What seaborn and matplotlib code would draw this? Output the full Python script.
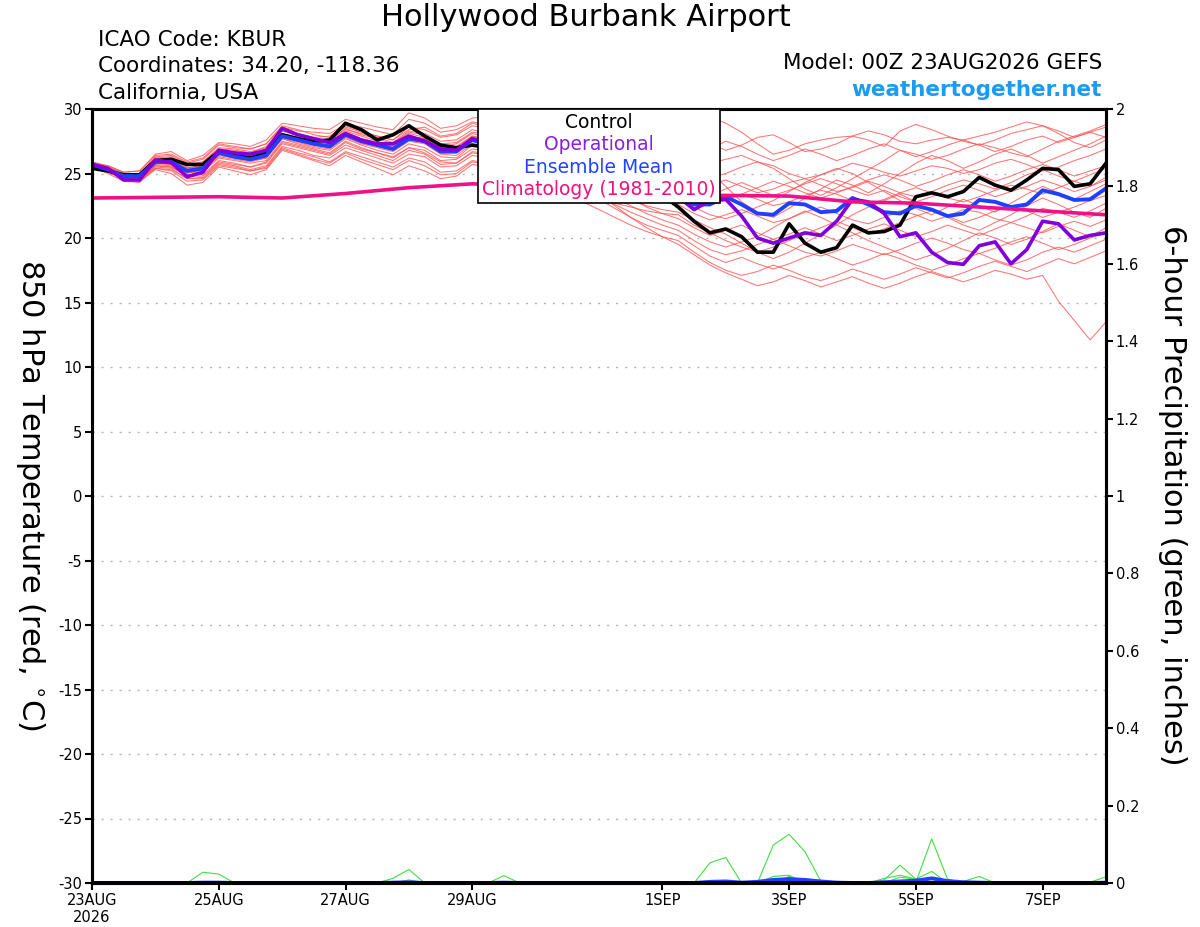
import numpy as np
import pandas as pd
import matplotlib
matplotlib.use("Agg")
import matplotlib.pyplot as plt
import seaborn as sns
from matplotlib.offsetbox import TextArea, VPacker, AnchoredOffsetbox

# ---------------- data ----------------
start = "2026-08-23 00:00"
n_steps = 65  # 6-hourly, 0..384 h

control_t = [25.4, 25.2, 24.9, 24.9, 26.0, 26.1, 25.7, 25.7, 26.7, 26.4, 26.2, 26.6, 28.0, 27.7, 27.5, 27.6,
             28.9, 28.4, 27.6, 28.0, 28.7, 27.9, 27.2, 27.0, 27.2,
             27.0, 26.8, 26.5, 26.2, 26.0, 25.8, 25.5, 25.2, 24.8, 24.4, 23.8, 23.3,
             22.4, 21.3, 20.4, 20.7, 20.1, 18.9, 18.9, 21.1, 19.6, 18.9, 19.25, 21.0, 20.4, 20.5, 21.0,
             23.2, 23.5, 23.2, 23.6, 24.7, 24.1, 23.7, 24.5, 25.4, 25.3, 24.0, 24.2, 25.8]

operational_t = [25.7, 25.4, 24.5, 24.5, 26.05, 25.85, 24.75, 25.1, 26.8, 26.6, 26.5, 26.8, 28.5, 28.0, 27.7, 27.4,
                 28.1, 27.6, 27.3, 27.3, 27.9, 27.5, 26.9, 26.8, 27.7,
                 27.4, 27.0, 26.6, 26.2, 25.8, 25.4, 25.0, 24.6, 24.2, 23.8, 23.4, 23.1,
                 23.2, 22.2, 22.9, 23.0, 21.7, 20.0, 19.6, 20.0, 20.4, 20.2, 21.3, 23.0, 22.8, 21.9, 20.1,
                 20.4, 18.9, 18.1, 17.96, 19.4, 19.7, 18.0, 19.1, 21.3, 21.1, 19.85, 20.2, 20.4]

mean_t = [25.7, 25.3, 24.8, 24.8, 25.9, 25.9, 25.2, 25.4, 26.6, 26.3, 26.1, 26.4, 27.9, 27.6, 27.3, 27.1,
          28.0, 27.5, 27.2, 26.9, 27.7, 27.5, 26.7, 26.7, 27.6,
          27.2, 26.8, 26.4, 26.0, 25.6, 25.2, 24.8, 24.4, 24.0, 23.6, 23.3, 23.1,
          23.2, 22.6, 22.6, 23.2, 22.6, 21.9, 21.8, 22.7, 22.6, 22.0, 22.1, 23.1, 22.6, 22.0, 21.9,
          22.5, 22.2, 21.7, 21.9, 22.95, 22.8, 22.4, 22.6, 23.7, 23.4, 22.95, 23.0, 23.85]

# daily climatology (23AUG .. 8SEP)
clim_t = [23.1, 23.15, 23.2, 23.1, 23.45, 23.9, 24.2, 24.0, 23.6, 23.3, 23.3, 23.25, 22.8, 22.7, 22.4, 22.1, 21.8]

member_01 = [25.8, 25.6, 25.1, 25.2, 26.5, 26.7, 26.0, 26.4, 27.4, 27.3, 27.1, 27.6, 28.9, 28.7, 28.5, 28.4, 29.2, 28.9, 28.6, 28.4, 29.7, 29.3, 28.5, 28.7, 29.3,
             29.4, 29.5, 29.3, 29.0, 28.8, 28.9, 29.1, 29.3, 29.0, 28.7, 28.6, 28.7,
             28.8, 29.2, 29.4, 28.9, 28.2, 27.3, 26.5, 26.8, 27.3, 27.6, 27.8, 27.9, 27.6, 27.1, 28.3, 28.8, 28.4, 27.9, 27.5, 27.2, 27.6, 28.1, 28.4, 28.7, 28.3, 27.8, 28.2, 28.6]
member_02 = [25.6, 25.2, 24.9, 25.0, 26.3, 26.4, 25.8, 26.1, 27.2, 27.0, 26.9, 27.3, 28.6, 28.3, 28.2, 28.1, 28.8, 28.6, 28.3, 28.0, 29.2, 28.9, 28.2, 28.4, 29.0,
             28.8, 28.5, 28.3, 28.0, 27.8, 27.9, 28.1, 28.3, 28.0, 27.8, 27.6, 27.5,
             27.6, 27.9, 27.3, 26.8, 27.2, 27.8, 28.0, 27.4, 26.7, 26.9, 27.3, 27.9, 28.3, 28.0, 27.5, 27.3, 27.6, 27.8, 27.6, 27.9, 28.2, 28.6, 29.0, 28.7, 28.1, 27.4, 27.0, 27.6]
member_03 = [25.5, 25.4, 24.7, 24.6, 26.1, 26.2, 25.6, 25.9, 26.9, 26.8, 26.6, 27.1, 28.4, 28.1, 27.8, 27.9, 28.7, 28.3, 27.9, 27.6, 28.6, 28.4, 27.8, 28.0, 28.7,
             28.5, 28.2, 27.9, 27.6, 27.4, 27.5, 27.3, 27.0, 26.9, 26.8, 26.6, 26.5,
             26.5, 26.2, 25.8, 26.1, 26.4, 25.9, 25.4, 24.6, 23.8, 23.3, 23.9, 24.6, 25.3, 26.0, 26.8, 26.5, 26.1, 26.4, 26.9, 27.3, 27.0, 26.6, 26.3, 26.9, 27.5, 27.9, 28.3, 28.8]
member_04 = [25.9, 25.5, 25.0, 24.9, 26.2, 26.0, 25.4, 25.7, 26.8, 26.6, 26.4, 26.9, 28.3, 27.9, 27.7, 27.6, 28.4, 28.1, 27.8, 27.4, 28.3, 28.1, 27.5, 27.6, 28.4,
             28.1, 27.8, 27.5, 27.2, 26.9, 26.7, 26.5, 26.3, 26.2, 26.1, 26.0, 25.9,
             25.8, 25.2, 24.7, 25.0, 25.5, 25.9, 25.6, 25.0, 24.6, 24.9, 25.3, 25.8, 25.5, 25.1, 24.8, 25.2, 25.6, 25.4, 25.0, 25.3, 25.8, 26.1, 25.7, 25.2, 25.5, 26.0, 26.4, 26.9]
member_05 = [25.7, 25.3, 24.9, 24.8, 25.9, 25.8, 25.3, 25.6, 26.7, 26.5, 26.3, 26.7, 28.1, 27.8, 27.5, 27.4, 28.3, 27.9, 27.5, 27.2, 28.1, 27.8, 27.1, 27.3, 28.1,
             27.8, 27.5, 27.1, 26.8, 26.6, 26.4, 26.2, 26.0, 25.7, 25.5, 25.3, 25.1,
             25.0, 25.4, 25.1, 24.0, 22.8, 22.0, 21.6, 22.3, 23.1, 23.8, 24.5, 24.1, 23.5, 24.2, 25.0, 25.8, 26.4, 26.0, 25.4, 25.9, 26.5, 26.9, 26.4, 25.8, 26.3, 26.8, 27.3, 27.9]
member_06 = [25.6, 25.1, 24.6, 24.5, 25.7, 25.6, 25.0, 25.3, 26.5, 26.2, 26.0, 26.3, 27.9, 27.5, 27.2, 27.0, 27.9, 27.4, 27.1, 26.8, 27.6, 27.4, 26.6, 26.6, 27.6,
             27.3, 27.0, 26.7, 26.4, 26.1, 25.8, 25.5, 25.3, 25.0, 24.7, 24.5, 24.3,
             24.2, 23.8, 24.1, 24.5, 24.0, 23.5, 23.8, 24.3, 24.6, 24.1, 23.6, 23.9, 24.4, 24.0, 23.5, 23.2, 23.6, 24.1, 24.5, 24.2, 23.8, 24.3, 24.9, 25.3, 24.8, 24.4, 24.0, 24.7]
member_07 = [25.8, 25.4, 24.8, 24.7, 26.0, 26.1, 25.5, 25.2, 26.3, 26.1, 25.9, 26.2, 27.7, 27.3, 27.0, 26.8, 27.7, 27.2, 26.8, 26.5, 27.3, 27.0, 26.3, 26.2, 27.2,
             27.0, 26.8, 26.5, 26.2, 25.9, 25.6, 25.3, 25.0, 24.6, 24.3, 24.0, 23.8,
             23.6, 23.1, 22.6, 22.9, 23.4, 23.0, 22.5, 22.8, 23.3, 23.7, 23.4, 22.9, 22.6, 23.0, 23.5, 23.9, 23.5, 23.1, 22.8, 23.2, 23.7, 24.1, 23.8, 23.4, 23.9, 24.4, 24.9, 25.4]
member_08 = [25.5, 25.2, 24.7, 24.9, 25.8, 25.7, 25.1, 25.1, 26.2, 26.0, 25.8, 26.0, 27.5, 27.2, 26.9, 26.6, 27.5, 27.0, 26.6, 26.3, 27.0, 26.8, 26.0, 26.1, 26.9,
             26.7, 26.5, 26.2, 25.9, 25.6, 25.3, 25.0, 24.6, 24.3, 24.0, 23.6, 23.3,
             23.0, 22.4, 21.8, 21.5, 21.9, 22.4, 22.9, 23.6, 24.3, 24.9, 25.4, 25.0, 24.3, 23.6, 22.9, 22.3, 21.8, 22.4, 23.0, 22.5, 22.0, 22.7, 23.4, 24.0, 23.5, 23.0, 23.6, 24.2]
member_09 = [25.7, 25.3, 24.8, 24.6, 25.6, 25.5, 24.9, 24.9, 26.0, 25.8, 25.5, 25.8, 27.3, 27.0, 26.7, 26.4, 27.2, 26.8, 26.4, 26.0, 26.8, 26.5, 25.7, 25.8, 26.6,
             26.4, 26.1, 25.8, 25.5, 25.2, 24.9, 24.5, 24.1, 23.8, 23.4, 23.1, 22.8,
             22.6, 21.9, 21.4, 21.8, 22.2, 21.7, 21.2, 21.5, 22.0, 22.4, 21.9, 21.4, 21.1, 21.6, 22.1, 21.8, 21.3, 21.7, 22.2, 22.0, 21.5, 21.2, 21.7, 22.3, 22.0, 21.6, 22.1, 22.7]
member_10 = [25.6, 25.2, 24.5, 24.4, 25.5, 25.4, 24.6, 24.7, 25.8, 25.6, 25.3, 25.6, 27.1, 26.8, 26.4, 26.2, 27.0, 26.6, 26.2, 25.8, 26.5, 26.3, 25.5, 25.6, 26.4,
             26.2, 25.9, 25.6, 25.2, 24.9, 24.5, 24.1, 23.7, 23.3, 22.9, 22.5, 22.2,
             22.0, 21.4, 20.8, 20.3, 19.6, 18.9, 18.4, 18.9, 19.6, 20.3, 21.0, 21.8, 22.4, 22.9, 23.4, 22.8, 22.1, 21.6, 21.0, 20.6, 21.2, 21.8, 22.5, 23.1, 22.6, 22.0, 21.6, 22.3]
member_11 = [25.8, 25.4, 24.9, 24.8, 25.9, 25.9, 25.3, 25.5, 26.6, 26.4, 26.2, 26.6, 28.0, 27.7, 27.4, 27.2, 28.1, 27.6, 27.3, 27.0, 27.8, 27.6, 26.8, 26.9, 27.8,
             27.5, 27.2, 26.8, 26.4, 26.0, 25.5, 25.0, 24.4, 23.8, 23.1, 22.4, 21.9,
             21.5, 20.8, 20.2, 20.6, 21.0, 20.4, 19.9, 20.3, 20.8, 20.3, 19.8, 20.2, 20.7, 21.1, 20.6, 20.1, 20.5, 21.0, 20.6, 20.2, 20.7, 21.2, 20.8, 20.4, 20.9, 21.3, 20.9, 21.4]
member_12 = [25.6, 25.3, 24.8, 24.7, 25.8, 25.7, 25.1, 25.3, 26.4, 26.2, 26.0, 26.2, 27.7, 27.4, 27.1, 26.9, 27.8, 27.3, 27.0, 26.7, 27.5, 27.3, 26.5, 26.4, 27.3,
             27.1, 26.8, 26.4, 25.9, 25.5, 25.0, 24.4, 23.8, 23.1, 22.5, 21.9, 21.4,
             21.0, 20.3, 19.7, 19.3, 19.7, 20.1, 20.8, 21.5, 22.1, 21.6, 21.0, 20.4, 19.8, 19.3, 18.8, 18.3, 18.7, 19.2, 19.8, 20.4, 20.0, 19.5, 19.9, 20.5, 21.1, 20.6, 20.1, 20.8]
member_13 = [25.7, 25.2, 24.6, 24.6, 25.4, 25.2, 24.4, 24.5, 25.6, 25.4, 25.2, 25.5, 27.0, 26.6, 26.3, 25.9, 26.7, 26.3, 25.9, 25.5, 26.2, 25.9, 25.1, 25.2, 26.0,
             25.8, 25.6, 25.3, 25.0, 24.6, 24.2, 23.7, 23.2, 22.6, 22.0, 21.5, 21.0,
             20.6, 19.8, 19.1, 18.7, 19.0, 19.5, 19.9, 19.4, 18.9, 18.6, 19.0, 19.5, 19.1, 18.7, 19.1, 19.6, 20.0, 19.6, 19.1, 18.8, 19.2, 19.7, 20.1, 19.6, 19.1, 19.5, 20.0, 20.4]
member_14 = [25.5, 25.1, 24.7, 24.5, 25.6, 25.5, 24.8, 24.8, 25.9, 25.7, 25.5, 25.9, 27.4, 27.1, 26.8, 26.5, 27.4, 26.9, 26.6, 26.2, 27.0, 26.6, 25.9, 25.8, 26.7,
             26.5, 26.2, 25.8, 25.3, 24.8, 24.2, 23.6, 23.0, 22.3, 21.6, 21.0, 20.6,
             20.2, 19.4, 18.6, 18.1, 18.5, 18.0, 17.6, 18.0, 18.5, 18.9, 18.4, 17.9, 18.3, 18.8, 18.4, 17.9, 17.5, 17.9, 18.4, 18.8, 18.3, 17.9, 18.3, 18.9, 19.3, 18.9, 19.4, 19.9]
member_15 = [25.6, 25.3, 24.6, 24.4, 25.3, 25.0, 24.1, 24.3, 25.5, 25.2, 24.9, 25.3, 26.8, 26.4, 26.0, 25.6, 26.4, 25.9, 25.4, 24.9, 25.6, 25.2, 24.6, 24.8, 25.7,
             25.5, 25.2, 24.8, 24.4, 23.9, 23.4, 22.8, 22.2, 21.6, 21.0, 20.5, 20.1,
             19.8, 18.9, 18.1, 17.5, 17.1, 17.4, 17.9, 17.5, 17.0, 16.7, 17.1, 17.6, 17.2, 16.8, 17.2, 17.7, 17.3, 16.9, 17.3, 17.8, 18.2, 17.8, 17.4, 17.9, 18.4, 18.0, 18.5, 19.0]
member_16 = [25.7, 25.4, 24.9, 24.8, 26.0, 26.0, 25.4, 25.6, 26.7, 26.5, 26.3, 26.6, 28.0, 27.8, 27.5, 27.3, 28.2, 27.7, 27.4, 27.1, 27.9, 27.7, 26.9, 27.0, 27.9,
             27.6, 27.2, 26.7, 26.1, 25.5, 24.8, 24.1, 23.3, 22.5, 21.6, 20.8, 20.1,
             19.5, 18.7, 17.9, 17.3, 16.8, 16.3, 16.6, 17.1, 16.7, 16.2, 16.6, 17.0, 16.5, 16.1, 16.5, 17.0, 17.4, 17.0, 16.6, 17.0, 17.5, 17.2, 16.8, 17.1, 15.1, 13.6, 12.1, 13.5]
member_17 = [25.9, 25.6, 25.1, 25.2, 26.4, 26.5, 25.9, 26.2, 27.3, 27.1, 26.9, 27.3, 28.7, 28.4, 28.0, 27.8, 28.6, 28.2, 27.9, 27.6, 28.4, 28.6, 27.9, 28.1, 28.9,
             28.6, 28.3, 28.0, 27.8, 27.5, 27.7, 27.9, 27.6, 27.4, 27.3, 27.2, 27.1,
             27.0, 26.4, 26.9, 27.5, 27.1, 26.5, 26.0, 26.4, 26.9, 26.5, 26.0, 26.4, 26.9, 27.3, 26.8, 26.3, 26.7, 27.2, 27.6, 27.2, 26.7, 27.1, 27.6, 27.9, 27.4, 27.8, 28.2, 27.8]
member_18 = [25.6, 25.2, 24.7, 24.7, 25.8, 25.8, 25.2, 25.4, 26.5, 26.3, 26.2, 26.5, 27.8, 27.5, 27.3, 27.1, 28.0, 27.6, 27.2, 27.0, 27.9, 27.7, 27.0, 27.1, 27.9,
             27.7, 27.4, 27.0, 26.7, 26.3, 26.0, 25.7, 25.4, 25.1, 24.9, 24.8, 24.7,
             24.6, 24.1, 23.5, 23.0, 23.4, 23.9, 24.4, 24.0, 23.5, 23.1, 23.5, 24.0, 24.5, 24.9, 24.5, 24.0, 24.4, 24.9, 25.3, 24.9, 24.4, 24.8, 25.3, 25.7, 25.3, 24.8, 25.2, 25.6]
member_19 = [25.5, 25.0, 24.4, 24.3, 25.4, 25.3, 24.6, 24.6, 25.7, 25.5, 25.2, 25.4, 26.9, 26.5, 26.1, 25.8, 26.6, 26.1, 25.7, 25.3, 26.0, 25.6, 24.9, 25.0, 25.9,
             25.7, 25.4, 25.1, 24.7, 24.3, 23.9, 23.5, 23.1, 22.7, 22.4, 22.1, 21.9,
             21.8, 21.0, 20.4, 19.8, 19.3, 18.9, 19.3, 19.8, 20.3, 20.8, 21.3, 20.8, 20.3, 20.7, 21.2, 21.7, 22.1, 21.7, 21.2, 21.6, 22.1, 22.5, 22.1, 21.6, 22.0, 22.4, 22.9, 23.3]
member_20 = [25.8, 25.5, 25.0, 25.0, 26.2, 26.3, 25.7, 25.9, 27.0, 26.9, 26.7, 27.0, 28.3, 28.0, 27.7, 27.5, 28.5, 28.0, 27.7, 27.3, 28.2, 28.0, 27.3, 27.4, 28.2,
             28.0, 27.7, 27.4, 27.0, 26.6, 26.2, 25.8, 25.4, 25.0, 24.6, 24.1, 23.6,
             23.3, 22.8, 23.3, 23.8, 24.3, 23.8, 23.3, 23.7, 24.2, 24.6, 24.2, 23.7, 23.3, 23.7, 23.2, 22.8, 23.2, 23.7, 24.1, 23.7, 23.2, 23.6, 24.0, 24.5, 24.1, 23.6, 24.0, 24.5]

# 6-hour precipitation (inches)
control_p = [0, 0, 0, 0, 0, 0, 0, 0, 0, 0, 0, 0, 0, 0, 0, 0, 0, 0, 0, 0, 0, 0, 0, 0, 0, 0, 0, 0, 0, 0, 0, 0, 0,
             0, 0, 0, 0, 0, 0, 0, 0, 0, 0, 0, 0, 0, 0, 0, 0, 0, 0, 0, 0, 0, 0, 0, 0, 0, 0, 0, 0, 0, 0, 0, 0]
mean_p = [0, 0, 0, 0, 0, 0, 0, 0.001, 0.001, 0, 0, 0, 0, 0, 0, 0, 0, 0, 0, 0.001, 0.002, 0, 0, 0, 0, 0, 0.001, 0, 0, 0, 0, 0, 0,
          0, 0, 0, 0, 0, 0, 0.003, 0.004, 0.001, 0.003, 0.008, 0.010, 0.008, 0.004, 0.001, 0, 0, 0.002, 0.004, 0.006, 0.012, 0.005, 0.002, 0.001, 0, 0, 0, 0, 0, 0, 0, 0.001]
prcp_01 = [0, 0, 0, 0, 0, 0, 0, 0, 0, 0, 0, 0, 0, 0, 0, 0, 0, 0, 0, 0, 0, 0, 0, 0, 0, 0, 0, 0, 0, 0, 0, 0, 0,
           0, 0, 0, 0, 0, 0, 0, 0, 0, 0, 0.098, 0.126, 0.081, 0.005, 0, 0, 0, 0, 0, 0, 0, 0, 0, 0, 0, 0, 0, 0, 0, 0, 0, 0]
prcp_02 = [0, 0, 0, 0, 0, 0, 0, 0, 0, 0, 0, 0, 0, 0, 0, 0, 0, 0, 0, 0, 0, 0, 0, 0, 0, 0, 0, 0, 0, 0, 0, 0, 0,
           0, 0, 0, 0, 0, 0, 0.052, 0.066, 0, 0, 0, 0, 0, 0, 0, 0, 0, 0, 0, 0.002, 0.114, 0.010, 0, 0, 0, 0, 0, 0, 0, 0, 0, 0]
prcp_03 = [0, 0, 0, 0, 0, 0, 0, 0.028, 0.023, 0, 0, 0, 0, 0, 0, 0, 0, 0, 0, 0, 0, 0, 0, 0, 0, 0, 0, 0, 0, 0, 0, 0, 0,
           0, 0, 0, 0, 0, 0, 0, 0, 0, 0, 0.017, 0.020, 0, 0, 0, 0, 0, 0.008, 0.046, 0.010, 0, 0, 0, 0, 0, 0, 0, 0, 0, 0, 0, 0]
prcp_04 = [0, 0, 0, 0, 0, 0, 0, 0, 0, 0, 0, 0, 0, 0, 0, 0, 0, 0, 0, 0.012, 0.035, 0, 0, 0, 0, 0, 0, 0, 0, 0, 0, 0, 0,
           0, 0, 0, 0, 0, 0, 0, 0, 0, 0, 0, 0.017, 0, 0, 0, 0, 0, 0.012, 0.020, 0.010, 0, 0, 0.004, 0.017, 0, 0, 0, 0, 0, 0, 0.002, 0.016]
prcp_05 = [0, 0, 0, 0, 0, 0, 0, 0, 0, 0, 0, 0, 0, 0, 0, 0, 0, 0, 0, 0, 0.008, 0, 0, 0, 0.004, 0, 0.019, 0, 0, 0, 0, 0, 0,
           0, 0, 0, 0, 0, 0, 0, 0, 0, 0, 0, 0.015, 0, 0, 0, 0, 0, 0, 0.015, 0.010, 0.030, 0, 0, 0, 0, 0, 0, 0, 0, 0, 0, 0]

date_ticks = ["2026-08-23", "2026-08-25", "2026-08-27", "2026-08-29",
              "2026-09-01", "2026-09-03", "2026-09-05", "2026-09-07"]
date_labels = ["23AUG\n2026", "25AUG", "27AUG", "29AUG", "1SEP", "3SEP", "5SEP", "7SEP"]
temp_ticks = [-30, -25, -20, -15, -10, -5, 0, 5, 10, 15, 20, 25, 30]
prcp_ticks = [0, 0.2, 0.4, 0.6, 0.8, 1.0, 1.2, 1.4, 1.6, 1.8, 2.0]
prcp_tick_labels = ["0", "0.2", "0.4", "0.6", "0.8", "1", "1.2", "1.4", "1.6", "1.8", "2"]
legend_labels = ["Control", "Operational", "Ensemble Mean", "Climatology (1981-2010)"]

# ---------------- frames ----------------
times = pd.date_range(start, periods=n_steps, freq="6h")
clim_times = pd.date_range(start, periods=len(clim_t), freq="1D")

members = [member_01, member_02, member_03, member_04, member_05, member_06, member_07, member_08, member_09, member_10,
           member_11, member_12, member_13, member_14, member_15, member_16, member_17, member_18, member_19, member_20]
ens_df = pd.concat([pd.DataFrame({"time": times, "temp": m, "member": i}) for i, m in enumerate(members)],
                   ignore_index=True)
prcp_members = [prcp_01, prcp_02, prcp_03, prcp_04, prcp_05]
prcp_df = pd.concat([pd.DataFrame({"time": times, "prcp": p, "member": i}) for i, p in enumerate(prcp_members)],
                    ignore_index=True)
main_df = pd.DataFrame({"time": times, "control": control_t, "oper": operational_t, "mean": mean_t,
                        "control_p": control_p, "mean_p": mean_p})
clim_df = pd.DataFrame({"time": clim_times, "clim": clim_t})

# ---------------- colours ----------------
RED = "#ff5252"
PURPLE = "#8000dc"
BLUE = "#2040ff"
PINK = "#f0108a"
GREEN = "#3fe03f"
WEB = "#1a9cf2"

plt.rcParams["font.family"] = ["DejaVu Sans"]

fig = plt.figure(figsize=(12, 9.27), dpi=100)
W, H = 1200, 927
ax = fig.add_axes([92 / W, 1 - 883 / H, (1106 - 92) / W, (883 - 109) / H])

# gridlines
for t in temp_ticks[1:-1]:
    ax.axhline(t, color="#b4b4b4", lw=1.0, ls=(0, (1.5, 5)), zorder=0)

sns.lineplot(data=ens_df, x="time", y="temp", units="member", estimator=None, color=RED, lw=0.75,
             alpha=0.8, ax=ax, legend=False, zorder=2)
sns.lineplot(data=main_df, x="time", y="control", color="black", lw=2.6, ax=ax, legend=False, zorder=4)
sns.lineplot(data=main_df, x="time", y="mean", color=BLUE, lw=2.8, ax=ax, legend=False, zorder=5)
sns.lineplot(data=main_df, x="time", y="oper", color=PURPLE, lw=2.6, ax=ax, legend=False, zorder=6)
sns.lineplot(data=clim_df, x="time", y="clim", color=PINK, lw=2.6, ax=ax, legend=False, zorder=7)

ax.set_xlim(times[0], times[-1])
ax.set_ylim(-30, 30)
ax.set_yticks(temp_ticks)
ax.set_yticklabels([str(t) for t in temp_ticks])
ax.set_xticks(pd.to_datetime(date_ticks))
ax.set_xticklabels(date_labels)
ax.set_xlabel("")
ax.set_ylabel("")
ax.tick_params(axis="both", direction="out", length=5, width=1.5, labelsize=10.5, pad=2)
for s in ax.spines.values():
    s.set_linewidth(2.2)
    s.set_color("black")

# precipitation axis
ax2 = ax.twinx()
sns.lineplot(data=prcp_df, x="time", y="prcp", units="member", estimator=None, color=GREEN, lw=0.8,
             ax=ax2, legend=False, zorder=2)
sns.lineplot(data=main_df, x="time", y="mean_p", color=BLUE, lw=2.8, ax=ax2, legend=False, zorder=3)
sns.lineplot(data=main_df, x="time", y="control_p", color="black", lw=2.8, ax=ax2, legend=False, zorder=4)
ax2.set_ylim(0, 2)
ax2.set_xlim(times[0], times[-1])
ax2.set_yticks(prcp_ticks)
ax2.set_yticklabels(prcp_tick_labels)
ax2.set_ylabel("")
ax2.tick_params(axis="y", direction="out", length=5, width=1.5, labelsize=10.5, pad=2)
for s in ax2.spines.values():
    s.set_linewidth(2.2)
    s.set_color("black")

# legend box (centered coloured text)
legend_colors = ["black", "#8a1ee0", "#2244ff", "#f0107f"]
areas = [TextArea(lbl, textprops=dict(color=c, fontsize=13.5)) for lbl, c in zip(legend_labels, legend_colors)]
vbox = VPacker(children=areas, align="center", pad=0, sep=2.5)
anch = AnchoredOffsetbox(loc="upper center", child=vbox, pad=0.28, frameon=True, borderpad=0,
                         bbox_to_anchor=(0.5, 1.0), bbox_transform=ax2.transAxes)
anch.patch.set_edgecolor("black")
anch.patch.set_linewidth(1.2)
anch.patch.set_facecolor("white")
anch.set_zorder(20)
ax2.add_artist(anch)

# titles and labels
fig.text(0.488, 1 - 18 / H, "Hollywood Burbank Airport", ha="center", va="center", fontsize=22)
fig.text(98 / W, 1 - 40 / H, "ICAO Code: KBUR", ha="left", va="center", fontsize=15.5)
fig.text(98 / W, 1 - 66 / H, "Coordinates: 34.20, -118.36", ha="left", va="center", fontsize=15.5)
fig.text(98 / W, 1 - 93 / H, "California, USA", ha="left", va="center", fontsize=15.5)
fig.text(1102 / W, 1 - 63 / H, "Model: 00Z 23AUG2026 GEFS", ha="right", va="center", fontsize=15.5)
fig.text(1102 / W, 1 - 90 / H, "weathertogether.net", ha="right", va="center", fontsize=15.5,
         fontweight="bold", color=WEB)
fig.text(30 / W, 1 - 495 / H, "850 hPa Temperature (red, $^{\\circ}$C)", rotation=270, ha="center", va="center",
         fontsize=22)
fig.text(1172 / W, 1 - 495 / H, "6-hour Precipitation (green, inches)", rotation=270, ha="center", va="center",
         fontsize=22)

fig.savefig("out.png", dpi=100, facecolor="white")
